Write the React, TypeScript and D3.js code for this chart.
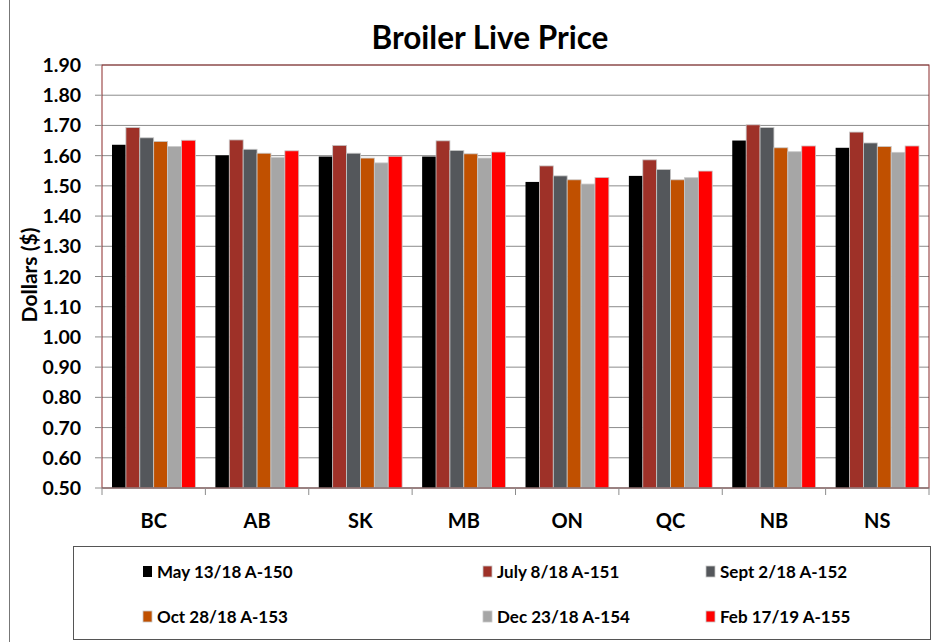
import React from "react";
import * as d3 from "d3";

const categories = ["BC", "AB", "SK", "MB", "ON", "QC", "NB", "NS"];
const seriesNames = [
  "May 13/18 A-150",
  "July 8/18 A-151",
  "Sept 2/18 A-152",
  "Oct 28/18 A-153",
  "Dec 23/18 A-154",
  "Feb 17/19 A-155",
];
const seriesColors = ["#000000", "#9E3128", "#54575B", "#C05000", "#A6A6A6", "#FF0000"];
const may13 = [1.636, 1.601, 1.597, 1.597, 1.513, 1.533, 1.65, 1.626];
const jul8 = [1.693, 1.652, 1.634, 1.649, 1.566, 1.586, 1.702, 1.678];
const sep2 = [1.659, 1.621, 1.608, 1.617, 1.533, 1.554, 1.693, 1.642];
const oct28 = [1.647, 1.608, 1.592, 1.606, 1.52, 1.52, 1.626, 1.63];
const dec23 = [1.63, 1.594, 1.576, 1.592, 1.506, 1.527, 1.613, 1.611];
const feb17 = [1.651, 1.616, 1.598, 1.612, 1.528, 1.549, 1.632, 1.632];
const seriesValues = [may13, jul8, sep2, oct28, dec23, feb17];
const yTicks = [0.5, 0.6, 0.7, 0.8, 0.9, 1.0, 1.1, 1.2, 1.3, 1.4, 1.5, 1.6, 1.7, 1.8, 1.9];

const W = 942;
const H = 642;
const FONT = "Lato, 'Open Sans', sans-serif";

export default function App() {
  const left = 102;
  const right = 929;
  const top = 65;
  const bottom = 488;
  const y = d3.scaleLinear().domain([0.5, 1.9]).range([bottom, top]);
  const x0 = d3.scaleBand<string>().domain(categories).range([left, right]).paddingInner(0).paddingOuter(0);
  const x1 = d3
    .scaleBand<string>()
    .domain(seriesNames)
    .range([0, x0.bandwidth()])
    .paddingInner(0)
    .paddingOuter(0.72);

  const legendCols = [143, 483, 706];
  const legendRows = [572, 617];

  return (
    <svg
      width={W}
      height={H}
      style={{ position: "absolute", left: 0, top: 0, background: "#fff" }}
      fontFamily={FONT}
    >
      <rect x={0} y={0} width={W} height={H} fill="#fff" />
      <line x1={9.5} x2={9.5} y1={0} y2={H} stroke="#777" strokeWidth={1} />
      <text x={490} y={49} textAnchor="middle" fontSize={31.5} fontWeight={700} fill="#000">
        Broiler Live Price
      </text>

      {/* gridlines */}
      {yTicks.map((t) => (
        <line key={"g" + t} x1={left} x2={right} y1={y(t)} y2={y(t)} stroke="#8c8c8c" strokeWidth={1} />
      ))}

      {/* bars */}
      {categories.map((c, ci) => (
        <g key={c} transform={`translate(${x0(c)},0)`}>
          {seriesNames.map((s, si) => {
            const v = seriesValues[si][ci];
            return (
              <rect
                key={s}
                x={x1(s)}
                y={y(v)}
                width={x1.bandwidth()}
                height={y(0.5) - y(v)}
                fill={seriesColors[si]}
                stroke={si === 0 ? "none" : "#c8c8c8"}
                strokeWidth={0.8}
              />
            );
          })}
        </g>
      ))}

      {/* plot border */}
      <rect x={left} y={top} width={right - left} height={bottom - top} fill="none" stroke="#8B2A2A" strokeWidth={1} />
      <line x1={left} x2={right} y1={bottom} y2={bottom} stroke="#8c8c8c" strokeWidth={1} />

      {/* y axis ticks & labels */}
      {yTicks.map((t) => (
        <g key={"t" + t}>
          <line x1={95} x2={left} y1={y(t)} y2={y(t)} stroke="#8c8c8c" strokeWidth={1} />
          <text x={81} y={y(t) + 7} textAnchor="end" fontSize={19.5} fontWeight={700} fill="#000">
            {t.toFixed(2)}
          </text>
        </g>
      ))}
      <text
        transform={`translate(37,${275}) rotate(-90)`}
        textAnchor="middle"
        fontSize={21}
        fontWeight={700}
        fill="#000"
      >
        Dollars ($)
      </text>

      {/* x axis ticks & labels */}
      {[...categories.map((c) => x0(c) as number), right].map((px, i) => (
        <line key={"xt" + i} x1={px} x2={px} y1={bottom} y2={bottom + 7} stroke="#8c8c8c" strokeWidth={1} />
      ))}
      {categories.map((c) => (
        <text
          key={"xl" + c}
          x={(x0(c) as number) + x0.bandwidth() / 2}
          y={528}
          textAnchor="middle"
          fontSize={20}
          fontWeight={700}
          fill="#000"
        >
          {c}
        </text>
      ))}

      {/* legend */}
      <rect x={73.5} y={546.5} width={857} height={93} fill="#fff" stroke="#555" strokeWidth={1} />
      {seriesNames.map((s, i) => {
        const cx = legendCols[i % 3];
        const cy = legendRows[Math.floor(i / 3)];
        return (
          <g key={"lg" + s}>
            <rect x={cx} y={cy - 6} width={9} height={11} fill={seriesColors[i]} stroke={i === 0 ? "none" : "#c8c8c8"} strokeWidth={0.8} />
            <text x={cx + 14} y={cy + 6} fontSize={17} fontWeight={700} fill="#000">
              {s}
            </text>
          </g>
        );
      })}
    </svg>
  );
}
